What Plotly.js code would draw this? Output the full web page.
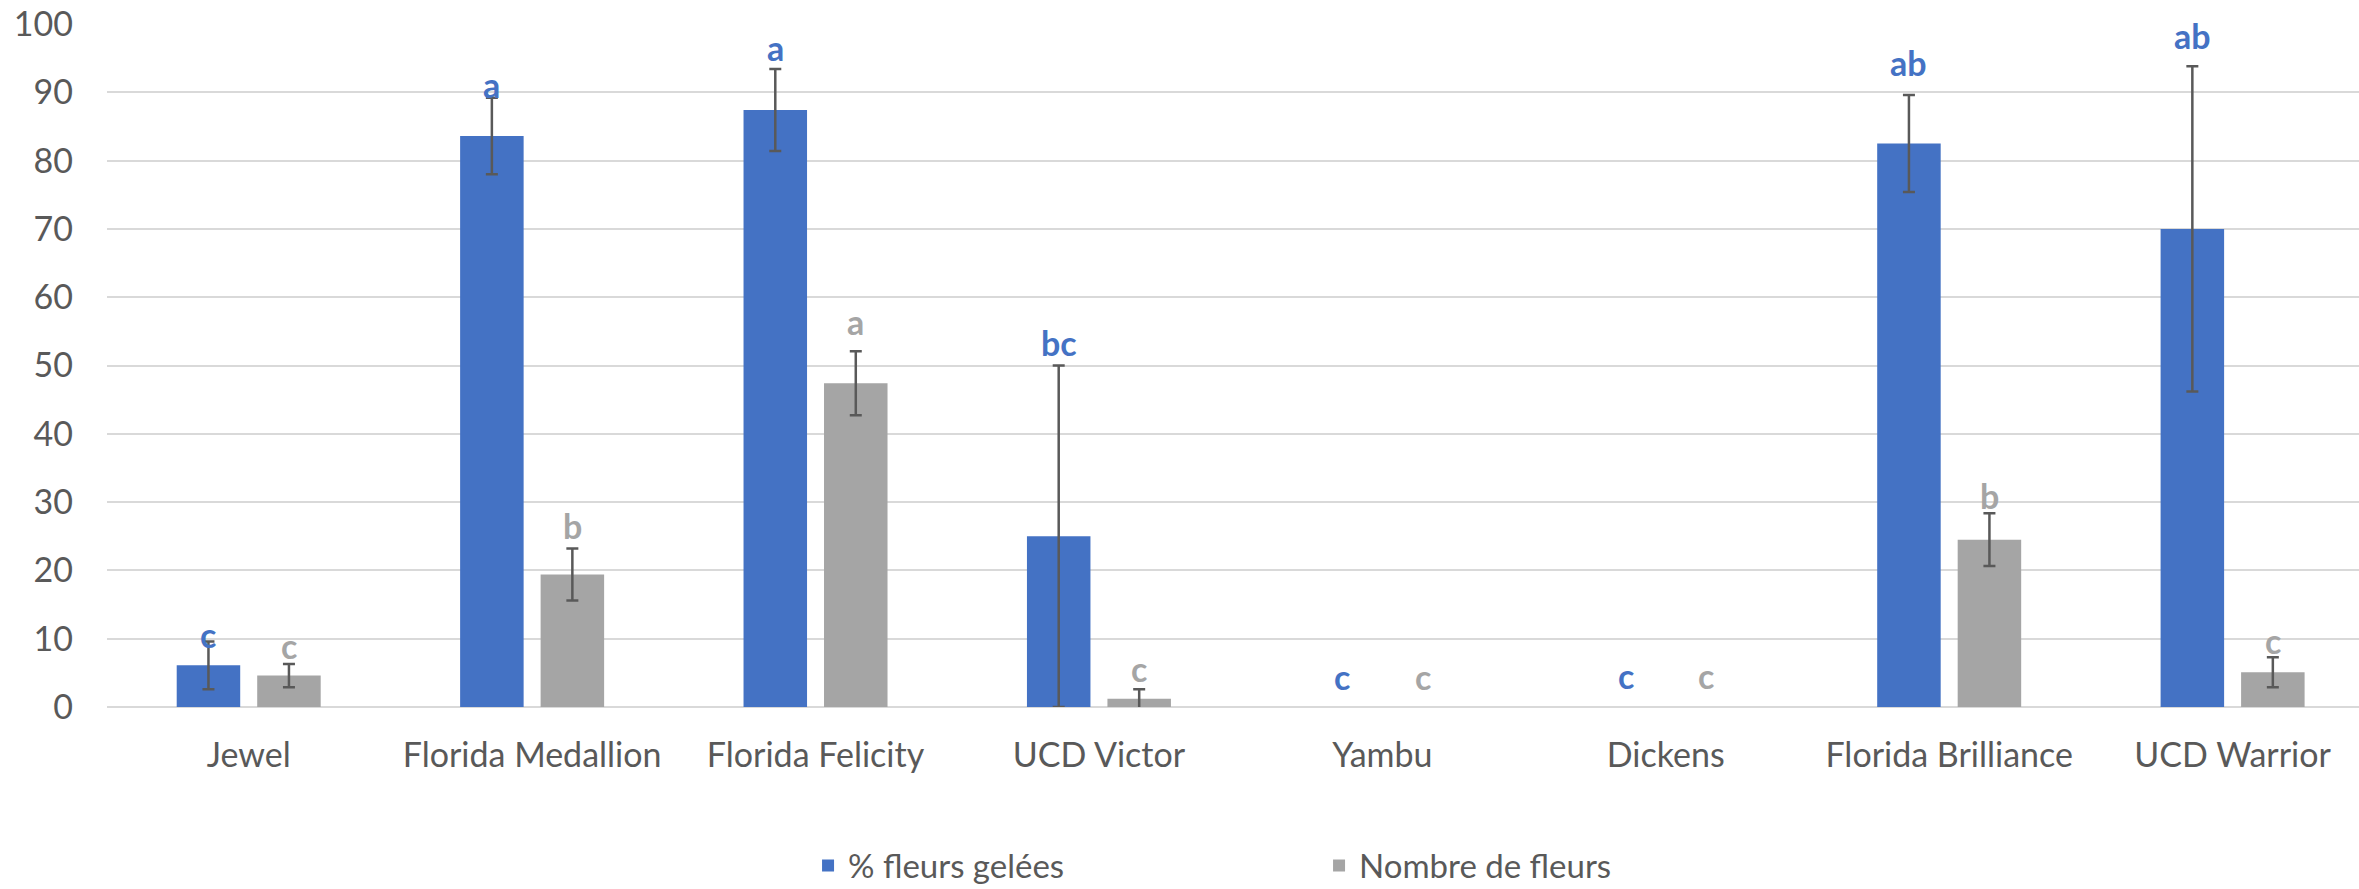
<!DOCTYPE html>
<html>
<head>
<meta charset="utf-8">
<script src="https://cdn.plot.ly/plotly-3.0.1.min.js"></script>
<style>html,body{margin:0;padding:0;background:#fff;}#chart{width:2359px;height:889px;}</style>
</head>
<body>
<div id="chart"></div>
<script>
const categories = ['Jewel', 'Florida Medallion', 'Florida Felicity', 'UCD Victor', 'Yambu', 'Dickens', 'Florida Brilliance', 'UCD Warrior'];
const seriesNames = ['% fleurs gelées', 'Nombre de fleurs'];
const pctGelees = [6.1, 83.6, 87.4, 25.0, 0, 0, 82.5, 70.0];
const pctGeleesErr = [3.5, 5.6, 6.0, 25.0, NaN, NaN, 7.1, 23.8];
const nbFleurs = [4.6, 19.4, 47.4, 1.2, 0, 0, 24.5, 5.1];
const nbFleursErr = [1.7, 3.8, 4.7, 1.4, NaN, NaN, 3.85, 2.2];
const lettersGelees = ['c', 'a', 'a', 'bc', 'c', 'c', 'ab', 'ab'];
const lettersFleurs = ['c', 'b', 'a', 'c', 'c', 'c', 'b', 'c'];
const labelYGelees = [10.6, 91.2, 96.5, 53.4, 4.5, 4.6, 94.4, 98.3];
const labelYFleurs = [9.0, 26.6, 56.5, 5.7, 4.5, 4.6, 30.9, 9.7];
const yTicks = [0, 10, 20, 30, 40, 50, 60, 70, 80, 90, 100];

const BLUE = '#4472C4', GREY = '#A5A5A5', TXT = '#595959';
const FONT = 'Lato, "Open Sans", sans-serif';
const BARGAP = 0.432;
const half = (1 - BARGAP) / 4;

const errStyle = {type: 'data', visible: true, color: '#595959', thickness: 2.5, width: 6};

const traces = [
  {type: 'bar', name: seriesNames[0], x: categories, y: pctGelees, marker: {color: BLUE},
   error_y: Object.assign({array: pctGeleesErr}, errStyle), hoverinfo: 'skip'},
  {type: 'bar', name: seriesNames[1], x: categories, y: nbFleurs, marker: {color: GREY},
   error_y: Object.assign({array: nbFleursErr}, errStyle), hoverinfo: 'skip'}
];

const annotations = [];
categories.forEach((c, i) => {
  annotations.push({x: i - half, y: labelYGelees[i], xref: 'x', yref: 'y', text: lettersGelees[i],
    showarrow: false, xanchor: 'center', yanchor: 'middle',
    font: {family: FONT, size: 34, color: BLUE, weight: 'bold'}});
  annotations.push({x: i + half, y: labelYFleurs[i], xref: 'x', yref: 'y', text: lettersFleurs[i],
    showarrow: false, xanchor: 'center', yanchor: 'middle',
    font: {family: FONT, size: 34, color: GREY, weight: 'bold'}});
});

const layout = {
  width: 2359, height: 889,
  margin: {l: 107, r: 0, t: 24.3, b: 181.7, pad: 0, autoexpand: false},
  paper_bgcolor: '#fff', plot_bgcolor: '#fff',
  barmode: 'group', bargap: BARGAP, bargroupgap: 0.211,
  font: {family: FONT, size: 34, color: TXT},
  xaxis: {type: 'category', range: [-0.5, 7.446], showgrid: false, zeroline: false,
    showline: false, ticks: '', ticklabelstandoff: 25, tickfont: {family: FONT, size: 34, color: TXT}, fixedrange: true},
  yaxis: {range: [0, 100], tickvals: yTicks, ticktext: yTicks.map(String), showgrid: true, gridcolor: '#D9D9D9', gridwidth: 2,
    zeroline: true, zerolinecolor: '#D9D9D9', zerolinewidth: 2, showline: false, ticks: '',
    ticklabelstandoff: 33, tickfont: {family: FONT, size: 34, color: TXT}, fixedrange: true},
  showlegend: true,
  legend: {orientation: 'h', x: 0.3113, xanchor: 'left', y: -0.232, yanchor: 'middle',
    entrywidth: 466, entrywidthmode: 'pixels', font: {family: FONT, size: 33, color: TXT},
    bgcolor: 'rgba(0,0,0,0)', traceorder: 'normal'},
  annotations: annotations
};

Plotly.newPlot('chart', traces, layout, {displayModeBar: false, staticPlot: true});
</script>
</body>
</html>
